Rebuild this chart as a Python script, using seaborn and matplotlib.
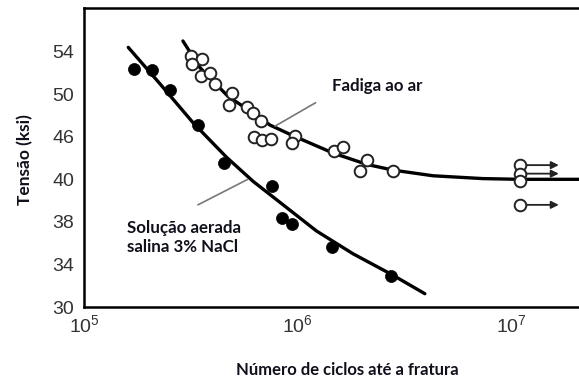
import numpy as np
import pandas as pd
import matplotlib
matplotlib.use("Agg")
import matplotlib.pyplot as plt
from matplotlib.ticker import FixedLocator, NullLocator, LogLocator, LogFormatterMathtext
import seaborn as sns

# Stress axis: tick levels are evenly spaced on the plot
y_ticks = [30, 34, 38, 40, 46, 50, 54]

# Fatigue in air (open circles)
air_cycles = [3.16e5, 3.56e5, 3.20e5, 3.52e5, 3.88e5, 4.10e5, 4.92e5, 4.76e5,
              5.78e5, 6.17e5, 6.71e5, 6.22e5, 6.79e5, 7.48e5, 9.68e5, 9.37e5,
              1.47e6, 1.62e6, 2.10e6, 1.95e6, 2.78e6]
air_stress = [53.6, 53.3, 52.8, 51.7, 52.0, 51.0, 50.1, 49.0,
              48.8, 48.2, 47.5, 46.0, 45.5, 45.7, 46.1, 45.1,
              44.0, 44.5, 42.7, 41.2, 41.2]

# Run-outs (no failure) in air
runout_cycles = [1.09e7, 1.09e7, 1.09e7, 1.09e7]
runout_stress = [42.0, 40.8, 39.9, 38.8]
runout_arrow = [True, True, False, True]

# Aerated 3% NaCl solution (filled circles)
nacl_cycles = [1.71e5, 2.08e5, 2.52e5, 3.41e5, 4.51e5, 7.56e5, 8.42e5, 9.37e5, 1.44e6, 2.72e6]
nacl_stress = [52.4, 52.3, 50.4, 47.1, 42.3, 39.7, 38.2, 37.8, 35.6, 32.9]

# Fitted S-N curves
air_curve_cycles = [2.90e5, 3.48e5, 4.71e5, 6.64e5, 7.40e5, 9.48e5, 1.46e6, 2.10e6,
                    2.78e6, 4.28e6, 7.32e6, 1.09e7, 2.06e7]
air_curve_stress = [55.0, 52.5, 49.8, 47.8, 47.1, 46.1, 43.7, 42.1,
                    41.3, 40.5, 40.1, 40.0, 40.0]
nacl_curve_cycles = [1.61e5, 2.26e5, 3.24e5, 4.64e5, 6.18e5, 8.53e5, 1.22e6, 1.81e6, 2.74e6, 3.92e6]
nacl_curve_stress = [54.4, 51.0, 47.3, 43.1, 39.9, 38.8, 37.15, 35.0, 33.06, 31.25]

sns.set_style("white")
plt.rcParams["font.family"] = ["Liberation Sans", "DejaVu Sans"]
label_font = ["Lato", "DejaVu Sans"]

fig = plt.figure(figsize=(5.79, 3.79), dpi=100)
ax = fig.add_axes([84 / 579, 1 - 307 / 379, 1 - 84 / 579, 299 / 379])

# piecewise-linear stress scale so the listed levels sit at equal spacing
lv = np.array([10.0] + y_ticks + [80.0])
ps = np.array([-5.0, 0, 1, 2, 3, 4, 5, 6, 12.5])
ax.set_yscale("function", functions=(lambda v: np.interp(v, lv, ps),
                                     lambda p: np.interp(p, ps, lv)))
ax.set_xscale("log")

air_df = pd.DataFrame({"N": air_cycles, "S": air_stress})
nacl_df = pd.DataFrame({"N": nacl_cycles, "S": nacl_stress})
run_df = pd.DataFrame({"N": runout_cycles, "S": runout_stress})

sns.lineplot(x=air_curve_cycles, y=air_curve_stress, sort=False, estimator=None,
             color="black", lw=2.4, ax=ax)
sns.lineplot(x=nacl_curve_cycles, y=nacl_curve_stress, sort=False, estimator=None,
             color="black", lw=2.4, ax=ax)

for n, s, has_arrow in zip(runout_cycles, runout_stress, runout_arrow):
    if has_arrow:
        ax.annotate("", xy=(n * 1.52, s), xytext=(n, s),
                    arrowprops=dict(arrowstyle="-|>", color="#222222", lw=1.3,
                                    shrinkA=4, shrinkB=0, mutation_scale=11))

sns.scatterplot(data=air_df, x="N", y="S", s=70, facecolor="white",
                edgecolor="#222222", linewidth=1.4, ax=ax, zorder=3)
sns.scatterplot(data=run_df, x="N", y="S", s=70, facecolor="white",
                edgecolor="#222222", linewidth=1.4, ax=ax, zorder=3)
sns.scatterplot(data=nacl_df, x="N", y="S", s=75, color="black",
                edgecolor="black", linewidth=0.5, ax=ax, zorder=3)

# labels with leader lines
ax.text(1.44e6, 50.8, "Fadiga ao ar", family=label_font, fontweight="bold",
        fontsize=12.2, ha="left", va="center", color="#10101c")
ax.plot([7.82e5, 1.21e6], [47.0, 49.2], color="#777777", lw=1.2)
ax.text(1.59e5, 36.55, "Solução aerada\nsalina 3% NaCl", family=label_font,
        fontweight="bold", fontsize=12.2, ha="left", va="center",
        color="#10101c", linespacing=1.2)
ax.plot([3.41e5, 5.83e5], [38.8, 40.0], color="#777777", lw=1.2)

ax.set_xlim(1e5, 2.06e7)
ax.set_ylim(30, 58.1)
ax.yaxis.set_major_locator(FixedLocator(y_ticks))
ax.yaxis.set_minor_locator(NullLocator())
ax.set_yticklabels([str(t) for t in y_ticks])
ax.xaxis.set_major_locator(LogLocator(base=10, numticks=10))
ax.xaxis.set_minor_locator(LogLocator(base=10, subs=np.arange(2, 10), numticks=20))
ax.xaxis.set_major_formatter(LogFormatterMathtext())

ax.tick_params(axis="both", which="major", direction="in", length=11, width=1.3,
               color="#333333", labelsize=14, labelcolor="#333333")
ax.tick_params(axis="x", which="minor", direction="in", length=5, width=1.1,
               color="#333333")
ax.tick_params(axis="y", pad=7)
ax.tick_params(axis="x", pad=5)

for side in ["left", "bottom", "top"]:
    ax.spines[side].set_color("black")
    ax.spines[side].set_linewidth(1.8)
ax.spines["right"].set_visible(False)

ax.set_xlabel("Número de ciclos até a fratura", family=label_font, fontweight="bold",
              fontsize=12, color="#10101c")
ax.set_ylabel("Tensão (ksi)", family=label_font, fontweight="bold",
              fontsize=12.5, color="#10101c")
ax.xaxis.set_label_coords((347 - 84) / 495, -(370 - 307) / 299)
ax.xaxis.label.set_va("center")
ax.yaxis.set_label_coords(-(84 - 25) / 495, (307 - 160) / 299)
ax.yaxis.label.set_va("center")

fig.savefig("out.png", dpi=100)
